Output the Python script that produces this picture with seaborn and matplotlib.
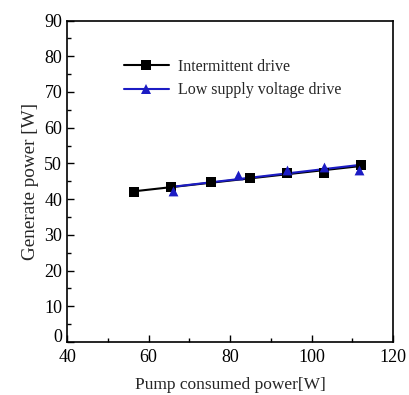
import numpy as np
import pandas as pd
import matplotlib
matplotlib.use("Agg")
import matplotlib.pyplot as plt
import seaborn as sns
from matplotlib.ticker import MultipleLocator
from matplotlib.lines import Line2D

# === Data ===
intermittent_x = [56.5, 65.4, 75.3, 85.0, 94.0, 103.1, 112.2]
intermittent_y = [41.9, 43.5, 44.9, 45.8, 47.4, 47.3, 49.6]
low_volt_x = [66.1, 81.9, 93.9, 103.1, 111.7]
low_volt_y = [42.3, 46.7, 48.1, 49.1, 48.1]

df_int = pd.DataFrame({"pump": intermittent_x, "gen": intermittent_y})
df_low = pd.DataFrame({"pump": low_volt_x, "gen": low_volt_y})

sns.set_style("ticks")
plt.rcParams["font.family"] = ["Liberation Serif", "DejaVu Serif"]

fig = plt.figure(figsize=(4.09, 3.95), dpi=100)
ax = fig.add_axes([0.164, 0.134, 0.797, 0.814])

black = "black"
blue = "#1c1cc4"

# linear fit lines with measured points on top
sns.regplot(data=df_int, x="pump", y="gen", ci=None, truncate=True, ax=ax,
            marker="s", color=black,
            scatter_kws={"s": 50, "linewidths": 0, "alpha": 1, "zorder": 3},
            line_kws={"linewidth": 1.5, "zorder": 2})
sns.regplot(data=df_low, x="pump", y="gen", ci=None, truncate=True, ax=ax,
            marker="^", color=blue,
            scatter_kws={"s": 50, "linewidths": 0, "alpha": 1, "zorder": 4},
            line_kws={"linewidth": 1.5, "zorder": 2.5})

ax.set_xlim(40, 120)
ax.set_ylim(0, 90)
ax.xaxis.set_major_locator(MultipleLocator(20))
ax.xaxis.set_minor_locator(MultipleLocator(10))
ax.yaxis.set_major_locator(MultipleLocator(10))
ax.yaxis.set_minor_locator(MultipleLocator(5))
ax.tick_params(which="both", direction="in", labelsize=13, width=1, colors="black")
ax.tick_params(which="major", length=5)
ax.tick_params(which="minor", length=3)
ax.tick_params(axis="x", which="major", pad=5)
for s in ax.spines.values():
    s.set_linewidth(1.2)
    s.set_color("black")

# lift the "0" a little so it does not sit on the "40"
fig.canvas.draw()
for t in ax.yaxis.get_major_ticks():
    if abs(t.get_loc()) < 1e-9:
        t.label1.set_verticalalignment("baseline")

ax.set_xlabel("Pump consumed power[W]", fontsize=12.5, labelpad=8)
ax.set_ylabel("Generate power [W]", fontsize=13.8, labelpad=4)

handles = [
    Line2D([], [], color=black, marker="s", markersize=7, markeredgewidth=0, linewidth=1.5),
    Line2D([], [], color=blue, marker="^", markersize=7, markeredgewidth=0, linewidth=1.5),
]
ax.legend(handles, ["Intermittent drive", "Low supply voltage drive"],
          loc="upper left", bbox_to_anchor=(0.13, 0.925), frameon=False,
          fontsize=11.5, handlelength=2.8, handletextpad=0.6, labelspacing=0.45)

plt.savefig("out.png", dpi=100)
plt.close()
